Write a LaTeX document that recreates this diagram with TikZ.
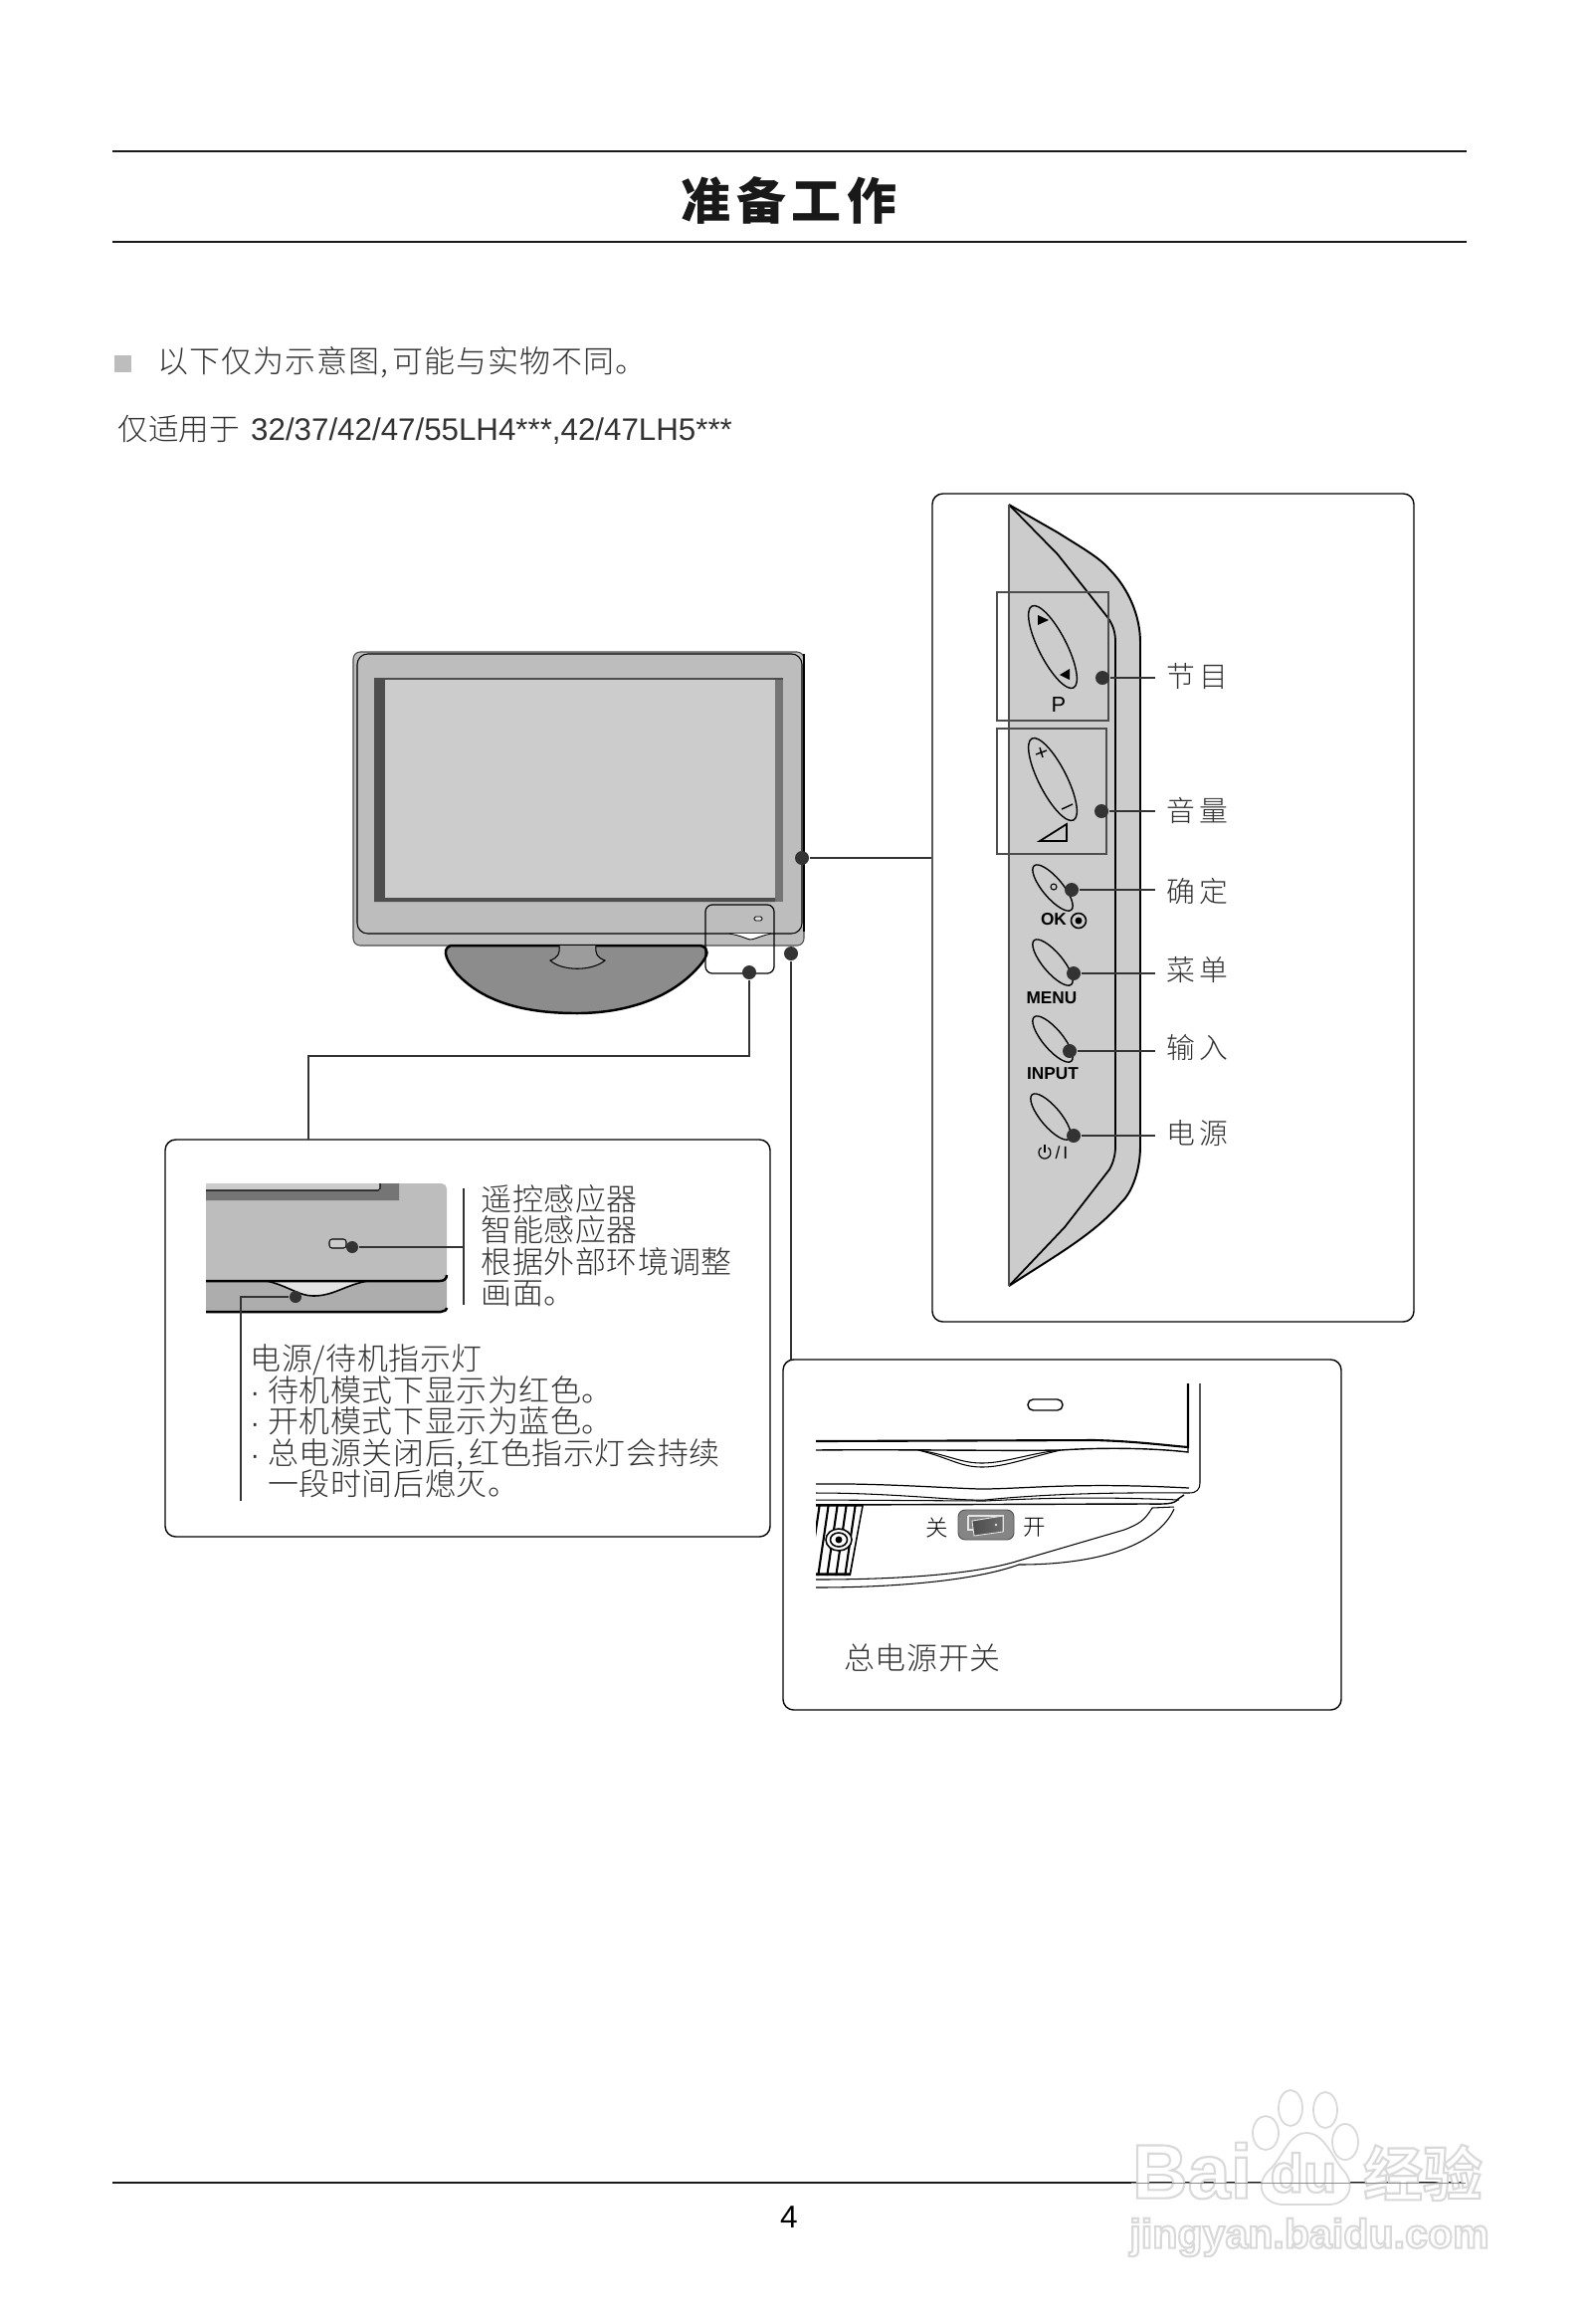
\documentclass[tikz,border=0pt]{standalone}
\usepackage{fontspec}
\usepackage{xcolor}
\usepackage{tikz}
\usetikzlibrary{positioning, shapes.geometric, calc}
\setmainfont{Liberation Sans}
\newfontfamily\cjk{Noto Sans CJK SC}[UprightFont={* Light},BoldFont={* Black}]
\newfontfamily\cjkspaced{Noto Sans CJK SC}[UprightFont={* Light},LetterSpace=2]
\newfontfamily\cjkwide{Noto Sans CJK SC}[UprightFont={* Light},LetterSpace=3.5]
\newfontfamily\cjkmark{Noto Sans CJK SC}[UprightFont={* Bold}]
\newcommand{\lampdot}{\makebox[5pt][l]{\rmfamily\fontsize{8}{8}\selectfont ·}}
\newcommand{\haloed}[1]{\special{pdf:code q 1 1 1 rg 0.85 0.85 0.85 RG 2 Tr 0.6 w}#1\special{pdf:code Q}}
\definecolor{inkDark}{HTML}{333333}
\definecolor{bezelGrey}{HTML}{BDBDBD}
\definecolor{screenGrey}{HTML}{CCCCCC}
\definecolor{standGrey}{HTML}{8C8C8C}
\definecolor{neckGrey}{HTML}{9C9C9C}
\definecolor{shadeGrey}{HTML}{4D4D4D}
\definecolor{sideGrey}{HTML}{757575}
\definecolor{lowerGrey}{HTML}{ADADAD}
\definecolor{markGrey}{HTML}{E4E4E4}
\definecolor{switchGrey}{HTML}{858585}
\definecolor{haloGrey}{HTML}{D9D9D9}
\tikzset{
  panelbox/.style={draw=black, line width=0.4pt, rounded corners=3pt},
  leaddot/.style={circle, fill=inkDark, minimum size=0.14cm, inner sep=0pt},
  leadline/.style={draw=inkDark, line width=0.45pt},
  cnbody/.style={font=\cjkspaced\fontsize{8.8}{8.96}\selectfont, text=inkDark, inner sep=0pt, align=left},
  cnkey/.style={font=\cjk\fontsize{8.2}{9}\selectfont, text=inkDark, inner sep=0pt, anchor=west, text width=1.0cm},
  keybox/.style={draw=shadeGrey, line width=0.45pt},
  longbtn/.style={ellipse, draw=black, line width=0.4pt, inner sep=0pt, minimum width=0.92cm, minimum height=0.28cm, rotate=-63},
  shortbtn/.style={ellipse, draw=black, line width=0.4pt, inner sep=0pt, minimum width=0.58cm, minimum height=0.2cm, rotate=-50},
  keytag/.style={inner sep=0pt, font=\bfseries\fontsize{4.9}{5}\selectfont},
  outline/.style={draw=black, line width=0.4pt},
  thinline/.style={draw=black, line width=0.3pt},
  wmark/.style={inner sep=0pt},
  wmpaw/.style={fill=white, draw=haloGrey, line width=0.5pt},
}
\begin{document}
\begin{tikzpicture}[x=0.01cm, y=-0.01cm]
  \useasboundingbox (0,0) rectangle (1597,2335);
  \fill[white] (0,0) rectangle (1597,2335);

  \draw[line width=0.55pt, black!90] (113,152) -- (1474,152);
  \draw[line width=0.55pt, black!90] (113,243) -- (1474,243);
  \node[inner sep=0pt, font=\cjk\bfseries\fontsize{14.2}{15}\selectfont, text=black!90] (pagetitle) at (793,201) {准\hspace{1.6pt}备\hspace{1.6pt}工\hspace{1.6pt}作};
  \node[fill=bezelGrey, minimum width=0.17cm, minimum height=0.17cm, inner sep=0pt] (notemark) at (123.5,365) {};
  \node[cnbody, font=\cjkwide\fontsize{8.8}{8.96}\selectfont, anchor=west] (notetext) at (158,364.5) {以下仅为示意图,\hspace{1pt}可能与实物不同。};
  \node[inner sep=0pt, anchor=west, text=inkDark, font=\fontsize{8.9}{9}\selectfont] (modeltext) at (118,431.5) {{\cjk\fontsize{8.7}{9}\selectfont 仅适用于}\hspace{0.7pt} 32/37/42/47/55LH4***,42/47LH5***};
  \draw[line width=0.45pt, black!90] (113,2193) -- (1474,2193);
  \node[inner sep=0pt, font=\fontsize{9}{10}\selectfont] (pagenum) at (793,2228) {4};

  \draw[fill=bezelGrey, line width=0.3pt, draw=shadeGrey, rounded corners=2pt] (355,655) rectangle (808,950);
  \draw[line width=0.7pt] (808,657) -- (808,936);
  \draw[fill=bezelGrey, line width=0.3pt, rounded corners=3pt] (359,657) rectangle (806,938);
  \fill[shadeGrey] (376,681) rectangle (387,906);
  \fill[sideGrey] (779,681) rectangle (787,906);
  \fill[shadeGrey] (376,681) rectangle (787,683);
  \fill[shadeGrey] (376,906) -- (387,902) -- (779,902) -- (779,906) -- cycle;
  \fill[screenGrey] (387,683) rectangle (779,902);
  \draw[fill=standGrey, line width=0.7pt] (453,950) .. controls (442,954) and (451,968) .. (459,978) .. controls (490,1012) and (540,1018) .. (580,1018) .. controls (625,1018) and (675,1005) .. (705,968) .. controls (711,960) and (714,953) .. (704,950) -- cycle;
  \draw[fill=neckGrey, line width=0.3pt] (562,950) .. controls (563,958) and (561,962) .. (553,965) .. controls (565,976) and (595,976) .. (608,965) .. controls (600,962) and (598,958) .. (599,950);
  \fill[white] (733,938) .. controls (745,940) and (752,944) .. (754,944) .. controls (758,944) and (765,940) .. (775,938) -- cycle;
  \draw[line width=0.25pt] (733,938) .. controls (745,940) and (752,944) .. (754,944) .. controls (758,944) and (765,940) .. (775,938);
  \draw[fill=markGrey, line width=0.25pt, rounded corners=0.4pt] (758,921) rectangle (766,925);
  \node[draw=black, line width=0.35pt, rounded corners=2pt, minimum width=0.69cm, minimum height=0.69cm, inner sep=0pt] (sensorzone) at (743.5,943.5) {};

  \node[leaddot] (dotSide) at (806,862) {};
  \node[leaddot] (dotFront) at (753,977) {};
  \node[leaddot] (dotMain) at (795,958) {};

  \draw[panelbox] (937,496) rectangle (1421,1328);
  \node[minimum width=4.84cm, minimum height=8.32cm, inner sep=0pt] (sidepanel) at (1179,912) {};
  \draw[leadline] (dotSide) -- (dotSide -| sidepanel.west);

  \draw[fill=screenGrey, draw=none] (1014,507) -- (1063,535) .. controls (1085,549) and (1105,560) .. (1115,572) .. controls (1135,592) and (1146,620) .. (1146,645) -- (1146,1152) .. controls (1146,1175) and (1138,1198) .. (1127,1208) .. controls (1100,1240) and (1060,1262) .. (1014,1292) -- cycle;
  \draw[line width=0.55pt] (1014,507) -- (1063,535) .. controls (1085,549) and (1105,560) .. (1115,572) .. controls (1135,592) and (1146,620) .. (1146,645) -- (1146,1152) .. controls (1146,1175) and (1138,1198) .. (1127,1208) .. controls (1100,1240) and (1060,1262) .. (1014,1292);
  \draw[line width=0.5pt] (1014,507) -- (1063,557) -- (1113,620) .. controls (1119,628) and (1121,636) .. (1121,645) -- (1121,1152) .. controls (1121,1160) and (1119,1168) .. (1115,1175) -- (1070,1233) -- (1014,1292);
  \draw[line width=0.5pt, draw=shadeGrey] (1014,507) -- (1014,1292);
  \draw[keybox] (1002,595) rectangle (1114,724);
  \draw[keybox] (1002,732) rectangle (1112,858);

  \node[longbtn] (btnProg) at (1058,650) {};
  \node[longbtn] (btnVol) at (1058,783) {};
  \node[shortbtn] (btnOk) at (1058,892) {};
  \node[shortbtn] (btnMenu) at (1058,967) {};
  \node[shortbtn] (btnInput) at (1058,1044) {};
  \node[shortbtn] (btnPower) at (1056,1122) {};
  \fill (1043,618) -- (1054,623) -- (1043,628) -- cycle;
  \fill (1065,678) -- (1075,672) -- (1075,683) -- cycle;
  \draw[line width=0.4pt] (1041,758) -- (1052,754) (1045,751) -- (1048,761);
  \draw[line width=0.4pt] (1067,813) -- (1078,808);
  \draw[line width=0.5pt] (1045,845) -- (1072,845) -- (1072,828) -- cycle;
  \draw[line width=0.3pt] (1059,891) circle (3);
  \draw[line width=0.45pt] (1084,925) circle (7.5);
  \fill (1084,925) circle (3.5);
  \node[inner sep=0pt, font=\fontsize{6.2}{7}\selectfont] (tagProg) at (1064,708) {P};
  \node[keytag] (tagOk) at (1059,924) {OK};
  \node[keytag] (tagMenu) at (1057,1003) {MENU};
  \node[keytag] (tagInput) at (1058,1079) {INPUT};
  \node[inner sep=0pt, font=\fontsize{5}{6}\selectfont] (tagPower) at (1067,1158) {/\,I};
  \draw[line width=0.35pt] (1053.4,1153.1) arc (-55:235:6);
  \draw[line width=0.35pt] (1050,1150) -- (1050,1158);

  \node[leaddot] (dotProg) at (1108,681) {};
  \node[leaddot] (dotVol) at (1107,815) {};
  \node[leaddot] (dotOk) at (1077,894) {};
  \node[leaddot] (dotMenu) at (1079,978) {};
  \node[leaddot] (dotInput) at (1075,1056) {};
  \node[leaddot] (dotPower) at (1079,1141) {};
  \coordinate (endkey) at (1161,0);
  \node[cnkey] (keyProg) at (1172,679) {节\hspace{1.2pt}目};
  \node[cnkey] (keyVol) at (1172,814) {音\hspace{1.2pt}量};
  \node[cnkey] (keyOk) at (1172,896) {确\hspace{1.2pt}定};
  \node[cnkey] (keyMenu) at (1172,975) {菜\hspace{1.2pt}单};
  \node[cnkey] (keyInput) at (1172,1053) {输\hspace{1.2pt}入};
  \node[cnkey] (keyPower) at (1172,1139) {电\hspace{1.2pt}源};
  \foreach \keyname in {Prog,Vol,Ok,Menu,Input,Power}
    \draw[leadline] (dot\keyname) -- (dot\keyname -| endkey);

  \draw[panelbox] (166,1145) rectangle (774,1544);
  \coordinate (frontdrop) at (310,1145);
  \draw[leadline] (dotFront) |- (310,1061) -- (frontdrop);
  \draw[fill=bezelGrey, draw=none, rounded corners=1.5pt] (207,1189) rectangle (449,1319);
  \fill[lowerGrey] (207,1287) -- (449,1287) -- (449,1318) -- (207,1318) -- cycle;
  \fill[sideGrey] (207,1196) -- (382,1196) -- (382,1189) -- (401,1189) -- (401,1206) -- (207,1206) -- cycle;
  \fill[screenGrey] (207,1189) rectangle (382,1196);
  \draw[line width=0.3pt] (207,1196) -- (380,1196) -- (382,1194) -- (382,1189);
  \fill[markGrey] (268,1287) .. controls (290,1292) and (300,1302) .. (315,1302) .. controls (335,1302) and (345,1292) .. (369,1287) -- cycle;
  \draw[line width=0.45pt] (268,1287) .. controls (290,1292) and (300,1302) .. (315,1302) .. controls (335,1302) and (345,1292) .. (369,1287);
  \draw[line width=0.7pt] (207,1287) -- (442,1287) .. controls (446,1287) and (449,1285) .. (449,1281);
  \draw[line width=0.7pt] (207,1318) -- (443,1318) .. controls (446,1318) and (449,1316) .. (449,1314);
  \draw[fill=screenGrey, line width=0.3pt, rounded corners=0.8pt] (331,1245) rectangle (348,1254);
  \node[leaddot, minimum size=0.12cm] (dotSensor) at (354,1253) {};
  \node[leaddot, minimum size=0.12cm] (dotLamp) at (297,1303) {};
  \coordinate (sensorbar) at (466,1253);
  \coordinate (lampend) at (242,1508);
  \draw[leadline, line width=0.35pt] (dotSensor) -- (sensorbar);
  \draw[leadline, line width=0.35pt] (466,1194) -- (466,1311);
  \draw[leadline] (dotLamp) -| (lampend);
  \node[cnbody, anchor=north west] (sensortext) at (483,1189.5) {遥控感应器\\智能感应器\\根据外部环境调整\\画面。};
  \node[cnbody, anchor=north west] (lamptext) at (251,1350) {电源/待机指示灯\\\lampdot 待机模式下显示为红色。\\\lampdot 开机模式下显示为蓝色。\\\lampdot 总电源关闭后,\hspace{1.5pt}红色指示灯会持续\\\hspace{5pt}一段时间后熄灭。};

  \draw[panelbox] (787,1366) rectangle (1348,1718);
  \coordinate (maindrop) at (795,1366);
  \draw[leadline, line width=0.35pt] (dotMain) -- (maindrop);
  \draw[outline, rounded corners=1.5pt] (1033,1406) rectangle (1068,1417);
  \draw[outline, line width=0.6pt] (820,1448) -- (1100,1447) .. controls (1140,1448) and (1170,1452) .. (1194,1454) -- (1194,1390);
  \draw[outline, line width=0.3pt] (1206,1390) -- (1206,1490) .. controls (1206,1496) and (1203,1500) .. (1195,1500);
  \draw[outline] (820,1457) .. controls (900,1456) and (1000,1458) .. (1066,1457) .. controls (1110,1454) and (1160,1455) .. (1194,1459) -- (1194,1454);
  \draw[thinline] (923,1457) .. controls (955,1462) and (965,1470) .. (987,1470) .. controls (1010,1470) and (1035,1460) .. (1066,1457);
  \draw[thinline] (923,1457) .. controls (955,1465) and (965,1474) .. (987,1474) .. controls (1010,1474) and (1035,1464) .. (1066,1457);
  \draw[thinline, line width=0.35pt] (820,1491) .. controls (880,1490) and (950,1495) .. (985,1496) .. controls (1030,1496) and (1080,1489) .. (1195,1495);
  \draw[thinline] (820,1500) .. controls (900,1500) and (960,1508) .. (990,1507) .. controls (1030,1503) and (1090,1499) .. (1195,1500);
  \draw[thinline] (820,1507) -- (990,1508) .. controls (1030,1506) and (1090,1503) .. (1185,1507);
  \draw[outline] (820,1512) -- (1150,1511) .. controls (1170,1511) and (1180,1512) .. (1184,1506) -- (1190,1502);
  \draw[thinline] (1180,1514) -- (1158,1515) .. controls (1150,1528) and (1145,1531) .. (1130,1537) -- (1024,1568) .. controls (980,1582) and (900,1587) .. (820,1587);
  \draw[thinline] (1180,1516) .. controls (1165,1550) and (1110,1572) .. (1024,1572) .. controls (980,1588) and (900,1595) .. (820,1595);
  \begin{scope}
    \clip (820,1511) -- (868,1511) -- (855,1583) -- (820,1583) -- cycle;
    \fill[white] (820,1511) rectangle (870,1583);
    \foreach \ribx in {0,9,...,54}
      \draw[line width=0.6pt] (\ribx+815,1510) -- (\ribx+804,1585);
    \draw[line width=0.9pt] (820,1512) -- (868,1512) -- (855,1582) -- (820,1582);
  \end{scope}
  \draw[fill=white, line width=0.45pt] (843,1547) ellipse (13 and 11);
  \draw[line width=0.45pt] (843,1547) ellipse (8.5 and 7);
  \fill (843,1547) circle (3.5);
  \draw[fill=switchGrey, draw=shadeGrey, line width=0.25pt, rounded corners=2pt] (963,1517) rectangle (1019,1547);
  \draw[markGrey, line width=0.3pt] (973,1523) -- (1008,1523) -- (1008,1539) (973,1523) -- (973,1537) -- (978,1537);
  \shade[left color=shadeGrey, right color=switchGrey!80!black] (977,1528) -- (1008,1523) -- (1008,1539) -- (979,1543) -- cycle;
  \draw[markGrey, line width=0.25pt] (977,1528) -- (1008,1523) -- (1008,1539) -- (979,1543) -- cycle;
  \fill[markGrey] (1001,1532) circle (1.3);
  \node[inner sep=0pt, font=\cjk\fontsize{6.4}{7}\selectfont] (switchoff) at (942,1535) {关};
  \node[inner sep=0pt, font=\cjk\fontsize{6.4}{7}\selectfont] (switchon) at (1040,1535) {开};
  \node[cnbody] (switchtext) at (927,1666) {总电源开关};

  \draw[wmpaw] (1297,2118) ellipse (12 and 18);
  \draw[wmpaw] (1332,2120) ellipse (12 and 18);
  \draw[wmpaw] (1272,2143) ellipse (13 and 17);
  \draw[wmpaw] (1352,2152) ellipse (13 and 18);
  \draw[wmpaw] (1313,2143) .. controls (1330,2143) and (1338,2165) .. (1348,2178) .. controls (1365,2195) and (1355,2215) .. (1335,2215) -- (1290,2215) .. controls (1270,2215) and (1258,2195) .. (1278,2178) .. controls (1290,2165) and (1296,2143) .. (1313,2143) -- cycle;
  \node[wmark, font=\bfseries\fontsize{22}{24}\selectfont] (wmBai) at (1198,2181) {\haloed{Bai}};
  \node[wmark, font=\bfseries\fontsize{15.5}{17}\selectfont] (wmDu) at (1310,2183) {\haloed{du}};
  \node[wmark, font=\cjkmark\fontsize{17}{18}\selectfont] (wmJy) at (1430,2183) {\haloed{经验}};
  \node[wmark, font=\bfseries\fontsize{11.7}{13}\selectfont] (wmUrl) at (1316,2248) {\haloed{jingyan.baidu.com}};
  \draw[black!45, line width=0.3pt] (1137,2193) -- (1473,2193);
\end{tikzpicture}
\end{document}
